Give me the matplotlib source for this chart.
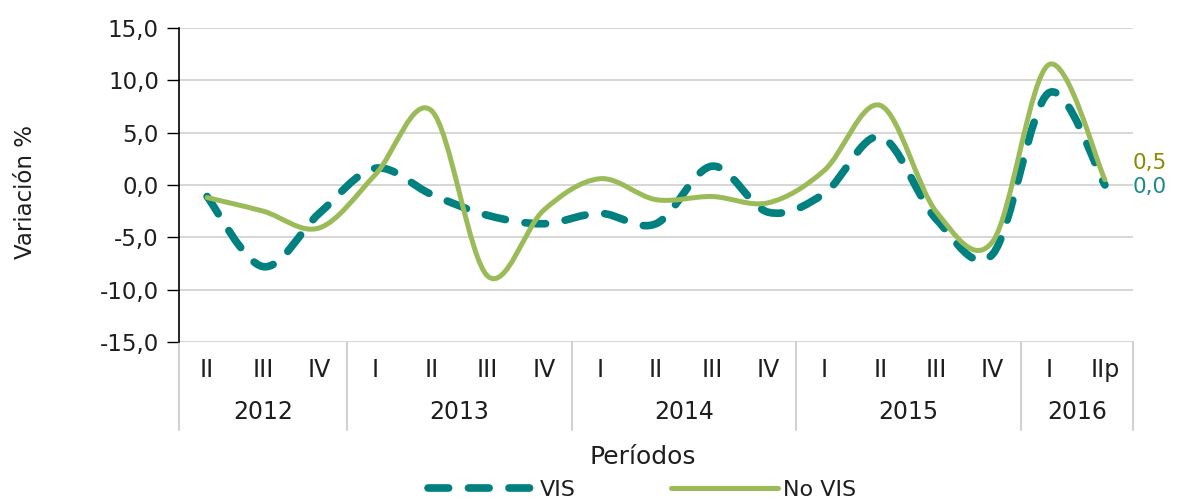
import matplotlib
matplotlib.use("Agg")
import matplotlib.pyplot as plt
from matplotlib.path import Path
from matplotlib.patches import PathPatch
from matplotlib.lines import Line2D
import numpy as np

# ---- data ----
quarters = ["II", "III", "IV", "I", "II", "III", "IV", "I", "II", "III", "IV",
            "I", "II", "III", "IV", "I", "IIp"]
years = ["2012", "2013", "2014", "2015", "2016"]
year_counts = [3, 4, 4, 4, 2]
vis = [-1.1, -7.8, -2.7, 1.6, -0.9, -2.9, -3.7, -2.7, -3.7, 1.8, -2.6,
       -0.8, 4.6, -3.3, -6.6, 8.8, 0.0]
no_vis = [-1.2, -2.5, -4.1, 1.0, 7.1, -8.7, -2.4, 0.6, -1.4, -1.1, -1.7,
          1.4, 7.6, -2.6, -5.4, 11.5, 0.5]
end_labels = ["0,5", "0,0"]

TEAL = "#00807F"
GREEN = "#9BBB59"
TXT = "#1E1E1E"

W, H = 1181, 504
fig = plt.figure(figsize=(W / 100, H / 100), dpi=100)
ax = fig.add_axes([179 / W, 1 - 342 / H, (1133 - 179) / W, (342 - 28) / H])


def smooth_path(ys):
    """Excel-like smoothed line: cubic Bezier segments through the points."""
    n = len(ys)
    pts = np.column_stack([np.arange(n, dtype=float), np.asarray(ys, float)])
    verts = [pts[0]]
    codes = [Path.MOVETO]
    for i in range(n - 1):
        p_prev = pts[i - 1] if i > 0 else pts[i]
        p_next2 = pts[i + 2] if i + 2 < n else pts[i + 1]
        c1 = pts[i] + (pts[i + 1] - p_prev) / 6.0
        c2 = pts[i + 1] - (p_next2 - pts[i]) / 6.0
        verts += [c1, c2, pts[i + 1]]
        codes += [Path.CURVE4] * 3
    return Path(verts, codes)


ax.add_patch(PathPatch(smooth_path(vis), fill=False, edgecolor=TEAL,
                       lw=5.5, linestyle=(0, (2.7, 2.6)), capstyle="round",
                       joinstyle="round", zorder=3))
ax.add_patch(PathPatch(smooth_path(no_vis), fill=False, edgecolor=GREEN,
                       lw=3.6, capstyle="round", joinstyle="round", zorder=4))

ax.set_xlim(-0.5, len(quarters) - 0.5)
ax.set_ylim(-15, 15)
ax.set_yticks(np.arange(-15, 16, 5))
ax.set_yticklabels([f"{v:.1f}".replace(".", ",") for v in np.arange(-15, 16, 5)],
                   fontsize=16.5, color=TXT)
ax.yaxis.grid(True, color="#D0D0D0", lw=1.2)
ax.set_axisbelow(True)
ax.tick_params(axis="y", direction="out", length=8.5, width=1.0, color="black",
               pad=6)
ax.set_xticks([])
for s in ["top", "right", "bottom"]:
    ax.spines[s].set_visible(False)
ax.spines["left"].set_color("black")
ax.spines["left"].set_linewidth(1.2)
ax.set_ylabel("Variación %", fontsize=16.5, color=TXT)
ax.yaxis.set_label_coords(-(179 - 37) / (1133 - 179), (342 - 192) / 314)

# category labels
tr = ax.get_xaxis_transform()
for i, q in enumerate(quarters):
    ax.text(i, (342 - 370) / 314, q, transform=tr, ha="center", va="center",
            fontsize=17, color=TXT, clip_on=False)
bounds = np.concatenate([[0], np.cumsum(year_counts)]) - 0.5
for k, y in enumerate(years):
    ax.text((bounds[k] + bounds[k + 1]) / 2, (342 - 412) / 314, y,
            transform=tr, ha="center", va="center", fontsize=17,
            color=TXT, clip_on=False)
for b in bounds:
    ax.add_line(Line2D([b, b], [0, (342 - 430) / 314], transform=tr,
                       color="#C8C8C8", lw=1.2, clip_on=False))

# end data labels
ax.annotate(end_labels[0], (len(no_vis) - 1, no_vis[-1]), xytext=(20, 12),
            textcoords="offset points", fontsize=15.5, color="#8C8A00",
            va="center", ha="left", annotation_clip=False)
ax.annotate(end_labels[1], (len(vis) - 1, vis[-1]), xytext=(20, -1.5),
            textcoords="offset points", fontsize=15.5, color="#1A8A8A",
            va="center", ha="left", annotation_clip=False)

fig.text(643 / W, 1 - 457 / H, "Períodos", ha="center", va="center",
         fontsize=18, color=TXT)

handles = [Line2D([], [], color=TEAL, lw=5.5, linestyle=(0, (2.7, 2.6)),
                  dash_capstyle="round"),
           Line2D([], [], color=GREEN, lw=3.6, solid_capstyle="round")]
fig.legend(handles, ["VIS", "No VIS"], loc="center",
           bbox_to_anchor=(642 / W, 1 - 490 / H), ncol=2, frameon=False,
           fontsize=16, handlelength=4.8, handletextpad=0.25,
           columnspacing=4.3, labelcolor=TXT, borderpad=0.1)

fig.savefig("out.png", dpi=100)
